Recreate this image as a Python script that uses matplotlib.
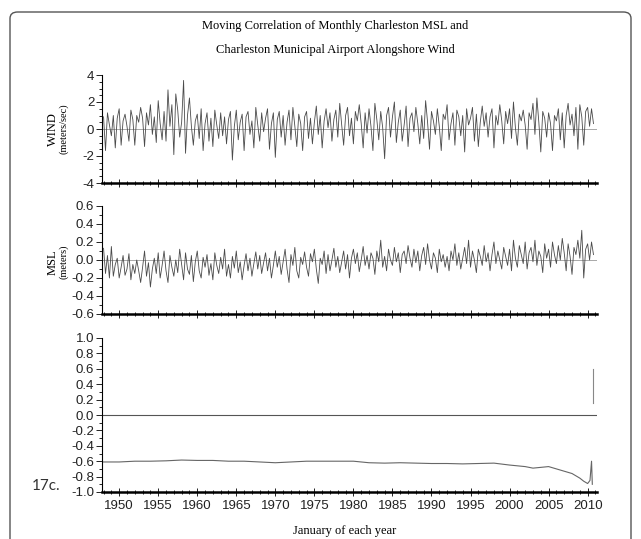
import matplotlib
matplotlib.use('Agg')
import matplotlib.pyplot as plt
import numpy as np
from matplotlib.patches import FancyBboxPatch
from matplotlib.ticker import MultipleLocator

plt.rcParams['axes.unicode_minus'] = False

# quarterly values, 1948 - 2010
wind = [0.9, -1.6, 1.2, 0.3,  -0.5, 1.0, -1.4, 0.8,  1.5, -1.2, 0.6, 1.1,
        0.2, -0.9, 1.4, 0.7,  -1.2, 1.0, 0.5, 1.6,  0.8, -1.3, 1.2, 0.3,
        1.8, -0.4, 0.9, -1.0,  2.1, 0.4, -0.8, 1.3,  -0.9, 2.9, 0.2, 1.8,
        -1.9, 2.6, 1.4, -0.6,  0.5, 3.6, -1.8, 1.0,  2.3, 0.2, -1.2, 0.6,
        1.1, -0.7, 1.5, -1.6,  0.4, 1.2, -0.9, 0.8,  -1.3, 1.4, 0.3, -0.7,
        1.2, -0.5, 0.9, -1.1,  0.7, 1.3, -2.3, 0.2,  1.4, -0.8, 0.5, 1.1,
        -1.6, 0.9, 1.3, -0.4,  0.6, -1.4, 1.6, 0.3,  -0.9, 1.2, -0.2, 0.8,
        1.5, -1.5, 0.4, 1.2,  -2.1, 0.7, 1.3, -0.6,  1.0, -1.2, 0.5, 1.4,
        -0.8, 1.6, 0.2, -1.3,  1.1, 0.4, -1.6, 0.9,  1.3, -0.7, 0.8, -1.1,
        0.5, 1.7, -0.4, 1.0,  -1.4, 0.6, 1.5, 0.1,  1.2, -0.9, 0.7, 1.4,
        -0.6, 1.9, 0.3, -1.2,  1.0, 1.6, -0.5, 0.8,  -1.1, 1.3, 0.6, 1.8,
        0.4, -1.4, 1.2, -0.3,  1.5, 0.2, -1.6, 1.9,  0.7, -0.8, 1.3, 0.1,
        -2.2, 1.0, 1.6, -0.6,  0.9, 2.0, -1.0, 0.5,  1.4, -0.9, 0.3, 1.7,
        -1.3, 0.8, 1.2, -0.2,  1.6, 0.4, -1.1, 1.0,  -0.7, 2.1, 0.5, -1.5,
        1.3, 0.6, -0.4, 1.5,  0.2, -1.6, 1.1, 0.7,  1.8, -0.8, 0.4, 1.2,
        -1.2, 1.4, 0.9, -0.5,  1.0, -1.7, 1.5, 0.3,  0.8, 1.6, -0.9, 1.1,
        -1.3, 0.5, 1.7, 0.2,  1.2, -0.6, 0.9, 1.5,  -1.4, 1.0, 0.3, 1.8,
        0.6, -1.1, 1.3, 0.4,  1.5, -0.7, 2.0, 0.1,  -1.2, 1.1, 0.6, 1.4,
        0.3, -1.5, 1.2, 0.7,  1.9, -0.4, 2.3, 0.5,  -1.7, 1.3, 0.8, -0.6,
        1.2, 0.4, -1.6, 1.0,  0.6, 1.5, -0.8, 1.2,  -1.4, 1.0, 1.9, 0.3,
        1.1, -0.5, 1.6, -1.5,  1.8, 0.9, -1.2, 1.3,  1.6, 0.2, 1.5, 0.4]

msl = [0.13, -0.15, 0.05, -0.20,  0.15, -0.18, -0.05, 0.02,  -0.20, -0.08, 0.05, -0.17,
       -0.10, 0.07, -0.22, -0.05,  -0.15, 0.00, -0.12, -0.25,  -0.08, 0.10, -0.18, -0.03,
       -0.30, -0.10, 0.02, -0.15,  0.08, -0.20, -0.06, 0.10,  -0.12, -0.25, 0.05, -0.08,
       -0.18, 0.00, -0.14, 0.12,  -0.05, -0.22, 0.08, -0.10,  -0.16, 0.05, -0.24, -0.02,
       0.10, -0.12, -0.20, 0.03,  -0.08, 0.06, -0.17, -0.04,  -0.22, 0.08, -0.06, -0.15,
       0.03, -0.10, 0.12, -0.18,  -0.05, -0.20, 0.04, -0.09,  0.10, -0.14, -0.02, -0.22,
       -0.06, 0.07, -0.12, 0.02,  -0.18, -0.04, 0.09, -0.10,  0.05, -0.15, -0.03, 0.08,
       -0.12, 0.02, -0.20, -0.06,  0.10, -0.08, 0.04, -0.16,  -0.02, 0.12, -0.10, -0.25,
       0.06, -0.06, 0.14, -0.12,  -0.20, 0.03, -0.05, 0.09,  -0.08, -0.18, 0.07, -0.02,
       0.12, -0.10, -0.26, 0.02,  -0.05, 0.10, -0.15, 0.06,  -0.12, 0.00, 0.13, -0.08,
       0.04, -0.14, -0.02, 0.10,  -0.10, 0.06, -0.20, 0.02,  0.12, -0.04, 0.08, -0.13,
       0.00, 0.15, -0.06, 0.05,  -0.10, 0.08, 0.02, -0.16,  0.10, -0.02, 0.22, -0.08,
       0.04, -0.12, 0.12, 0.00,  -0.06, 0.14, -0.02, 0.08,  -0.14, 0.06, 0.10, -0.04,
       0.16, 0.02, -0.08, 0.12,  -0.03, 0.10, -0.12, 0.05,  0.14, -0.05, 0.18, 0.00,
       -0.10, 0.08, 0.02, -0.14,  0.12, -0.02, 0.06, -0.08,  0.04, -0.12, 0.10, 0.00,
       0.18, -0.06, 0.08, -0.10,  0.02, 0.14, -0.04, 0.22,  -0.08, 0.10, 0.00, -0.14,
       0.12, 0.04, -0.06, 0.16,  -0.02, 0.08, -0.12, 0.06,  0.20, -0.04, 0.10, 0.00,
       -0.10, 0.14, 0.04, -0.06,  0.12, -0.12, 0.22, 0.02,  -0.08, 0.16, 0.06, -0.04,
       0.20, -0.10, 0.08, 0.14,  -0.02, 0.22, -0.06, 0.10,  0.04, -0.14, 0.18, 0.02,
       0.12, -0.08, 0.20, 0.06,  -0.04, 0.16, 0.00, 0.24,  0.08, -0.12, 0.18, 0.04,
       -0.16, 0.14, 0.06, 0.22,  0.02, 0.33, -0.20, 0.12,  0.18, 0.00, 0.20, 0.06]

t_q = 1948 + np.arange(len(wind)) / 4.0

# moving correlation
corr_years = [1948, 1950, 1952, 1954, 1956, 1958, 1960, 1962, 1964, 1966, 1968,
              1970, 1972, 1974, 1976, 1978, 1980, 1982, 1984, 1986, 1988, 1990,
              1992, 1994, 1996, 1998, 2000, 2002, 2003, 2004, 2005, 2006, 2007,
              2008, 2009, 2009.5, 2010, 2010.3, 2010.5, 2010.6]
corr = [-0.61, -0.61, -0.60, -0.60, -0.595, -0.585, -0.59, -0.59, -0.60, -0.60, -0.61,
        -0.62, -0.61, -0.60, -0.60, -0.60, -0.60, -0.62, -0.625, -0.62, -0.625, -0.63,
        -0.63, -0.635, -0.63, -0.625, -0.65, -0.67, -0.69, -0.68, -0.67, -0.70, -0.73,
        -0.76, -0.82, -0.86, -0.89, -0.85, -0.60, -0.90]
spike_x = [2010.75, 2010.75]
spike_y = [0.15, 0.60]

xmin, xmax = 1947.8, 2011.2
tick_font = 'Liberation Sans'

fig = plt.figure(figsize=(6.41, 5.39), dpi=100)

border = FancyBboxPatch((10 / 641, -0.05), 621 / 641, 1 - 12 / 539 + 0.05,
                        boxstyle='round,pad=0,rounding_size=0.012',
                        transform=fig.transFigure, fill=False,
                        edgecolor='#555555', linewidth=1.0)
fig.patches.append(border)

left, width = 102 / 641, 495 / 641
ax1 = fig.add_axes([left, 1 - 183 / 539, width, 108 / 539])
ax2 = fig.add_axes([left, 1 - 314 / 539, width, 108 / 539])
ax3 = fig.add_axes([left, 1 - 492 / 539, width, 154 / 539])

ax1.plot(t_q, wind, color='#4a4a4a', lw=0.6)
ax1.axhline(0, color='#9a9a9a', lw=0.6, zorder=0)
ax1.set_ylim(-4, 4)
ax1.yaxis.set_major_locator(MultipleLocator(2))
ax1.yaxis.set_minor_locator(MultipleLocator(0.5))

ax2.plot(t_q, msl, color='#4a4a4a', lw=0.6)
ax2.axhline(0, color='#9a9a9a', lw=0.6, zorder=0)
ax2.set_ylim(-0.6, 0.6)
ax2.yaxis.set_major_locator(MultipleLocator(0.2))
ax2.yaxis.set_minor_locator(MultipleLocator(0.1))
ax2.yaxis.set_major_formatter(plt.FormatStrFormatter('%.1f'))

ax3.plot(corr_years, corr, color='#666666', lw=0.8)
ax3.plot(spike_x, spike_y, color='#888888', lw=0.8)
ax3.axhline(0, color='#555555', lw=0.8, zorder=0)
ax3.set_ylim(-1.0, 1.0)
ax3.yaxis.set_major_locator(MultipleLocator(0.2))
ax3.yaxis.set_minor_locator(MultipleLocator(0.1))
ax3.yaxis.set_major_formatter(plt.FormatStrFormatter('%.1f'))

for ax in (ax1, ax2, ax3):
    ax.set_xlim(xmin, xmax)
    ax.spines['top'].set_visible(False)
    ax.spines['right'].set_visible(False)
    ax.spines['left'].set_linewidth(0.8)
    ax.spines['bottom'].set_linewidth(1.8)
    ax.xaxis.set_major_locator(MultipleLocator(5))
    ax.xaxis.set_minor_locator(MultipleLocator(1))
    ax.tick_params(axis='y', which='major', length=4, width=0.7, labelsize=9.5,
                   pad=1.5, colors='#222222')
    ax.tick_params(axis='y', which='minor', length=2, width=0.6)
    ax.tick_params(axis='x', which='major', direction='inout', length=6, width=0.7,
                   labelsize=9.5, pad=3, colors='#222222')
    ax.tick_params(axis='x', which='minor', direction='inout', length=3, width=0.6)
    for lab in ax.get_yticklabels() + ax.get_xticklabels():
        lab.set_fontfamily(tick_font)

ax1.tick_params(axis='x', labelbottom=False)
ax2.tick_params(axis='x', labelbottom=False)

fig.text(335 / 641, 1 - 26 / 539, 'Moving Correlation of Monthly Charleston MSL and',
         ha='center', va='center', family='Liberation Serif', fontsize=9)
fig.text(335 / 641, 1 - 50 / 539, 'Charleston Municipal Airport Alongshore Wind',
         ha='center', va='center', family='Liberation Serif', fontsize=9)

fig.text(53 / 641, 1 - 129 / 539, 'WIND', rotation=90, ha='center', va='center',
         family='Liberation Serif', fontsize=9)
fig.text(64 / 641, 1 - 129 / 539, '(meters/sec)', rotation=90, ha='center', va='center',
         family='Liberation Serif', fontsize=7.5)
fig.text(53 / 641, 1 - 262 / 539, 'MSL', rotation=90, ha='center', va='center',
         family='Liberation Serif', fontsize=9)
fig.text(64 / 641, 1 - 262 / 539, '(meters)', rotation=90, ha='center', va='center',
         family='Liberation Serif', fontsize=7.5)

fig.text(345 / 641, 1 - 531 / 539, 'January of each year', ha='center', va='center',
         family='Liberation Serif', fontsize=9)
fig.text(32 / 641, 1 - 486 / 539, '17c.', ha='left', va='center',
         family='Lato', fontsize=11, color='#333333')

fig.savefig('out.png', dpi=100)
